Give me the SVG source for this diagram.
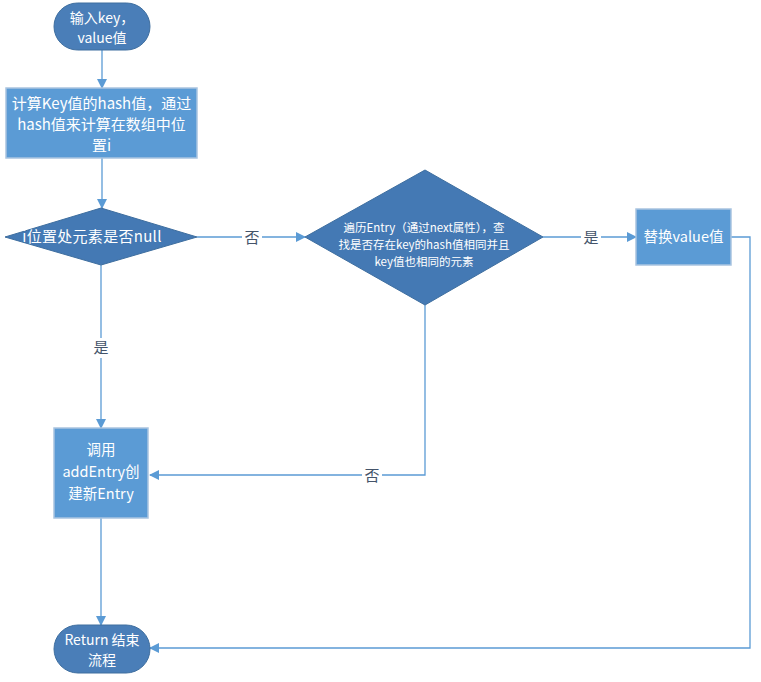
<svg xmlns="http://www.w3.org/2000/svg" width="761" height="682" viewBox="0 0 761 682">
<defs>
<marker id="arr" markerWidth="10" markerHeight="10" refX="9" refY="5" orient="auto" markerUnits="userSpaceOnUse">
<path d="M0,0 L10,5 L0,10 Z" fill="#5B9BD5"/>
</marker>
<style>
.term{fill:#4A7EB8;stroke:#3E6E9F;stroke-width:1}
.proc{fill:#5B9BD5;stroke:#A9C4E0;stroke-width:1.5}
.dec{fill:#4479B4;stroke:#3E6E9F;stroke-width:1}
.t{font-family:"Noto Sans CJK SC","Noto Sans",sans-serif;fill:#ffffff;text-anchor:middle}
.lbl{font-family:"Noto Sans CJK SC","Noto Sans",sans-serif;fill:#44546A;text-anchor:middle;font-size:15px}
.ln{fill:none;stroke:#5B9BD5;stroke-width:1.3}
.lbg{fill:#ffffff}
</style>
</defs>
<rect width="761" height="682" fill="#ffffff"/>
<g id="connectors">
<path class="ln" d="M102,50 L102,88" marker-end="url(#arr)"/>
<path class="ln" d="M102,158 L102,208" marker-end="url(#arr)"/>
<path class="ln" d="M197,237 L305,237" marker-end="url(#arr)"/>
<path class="ln" d="M543,237 L636,237" marker-end="url(#arr)"/>
<path class="ln" d="M101,265 L101,428" marker-end="url(#arr)"/>
<path class="ln" d="M425,305 L425,475 L150,475" marker-end="url(#arr)"/>
<path class="ln" d="M731,237 L750,237 L750,648 L150,648" marker-end="url(#arr)"/>
<path class="ln" d="M101,518 L101,625" marker-end="url(#arr)"/>
<rect class="lbg" x="242" y="228" width="20" height="20"/>
<text class="lbl" x="252" y="243">否</text>
<rect class="lbg" x="581" y="228" width="20" height="20"/>
<text class="lbl" x="591" y="243">是</text>
<rect class="lbg" x="91" y="338" width="20" height="20"/>
<text class="lbl" x="101" y="353">是</text>
<rect class="lbg" x="362" y="466" width="20" height="20"/>
<text class="lbl" x="372" y="481">否</text>
</g>
<g id="start">
<rect class="term" x="54" y="3" width="96" height="47" rx="23.5" ry="23.5"/>
<text class="t" font-size="14" x="102" y="23">输入key，</text>
<text class="t" font-size="14" x="102" y="43">value值</text>
</g>
<g id="calc">
<rect class="proc" x="6" y="88" width="191" height="70"/>
<text class="t" font-size="15" x="101.5" y="109">计算Key值的hash值，通过</text>
<text class="t" font-size="15" x="101.5" y="130">hash值来计算在数组中位</text>
<text class="t" font-size="15" x="101.5" y="151">置i</text>
</g>
<g id="dec1">
<polygon class="dec" points="5,237 101,208 197,237 101,265"/>
<text class="t" font-size="15" letter-spacing="0.3" x="92" y="242">i位置处元素是否null</text>
</g>
<g id="dec2">
<polygon class="dec" points="305,237 425,170 543,237 425,305"/>
<text class="t" font-size="11.5" x="424" y="232">遍历Entry（通过next属性），查</text>
<text class="t" font-size="11.5" x="424" y="249">找是否存在key的hash值相同并且</text>
<text class="t" font-size="11.5" x="424" y="266">key值也相同的元素</text>
</g>
<g id="replace">
<rect class="proc" x="636" y="209" width="95" height="56"/>
<text class="t" font-size="14.5" x="683.5" y="242">替换value值</text>
</g>
<g id="add">
<rect class="proc" x="54" y="428" width="94" height="90"/>
<text class="t" font-size="14.5" x="101" y="455">调用</text>
<text class="t" font-size="14.5" x="101" y="477">addEntry创</text>
<text class="t" font-size="14.5" x="101" y="499">建新Entry</text>
</g>
<g id="end">
<rect class="term" x="54" y="625" width="96" height="48" rx="24" ry="24"/>
<text class="t" font-size="14" x="102" y="645">Return 结束</text>
<text class="t" font-size="14" x="102" y="665">流程</text>
</g>
</svg>
